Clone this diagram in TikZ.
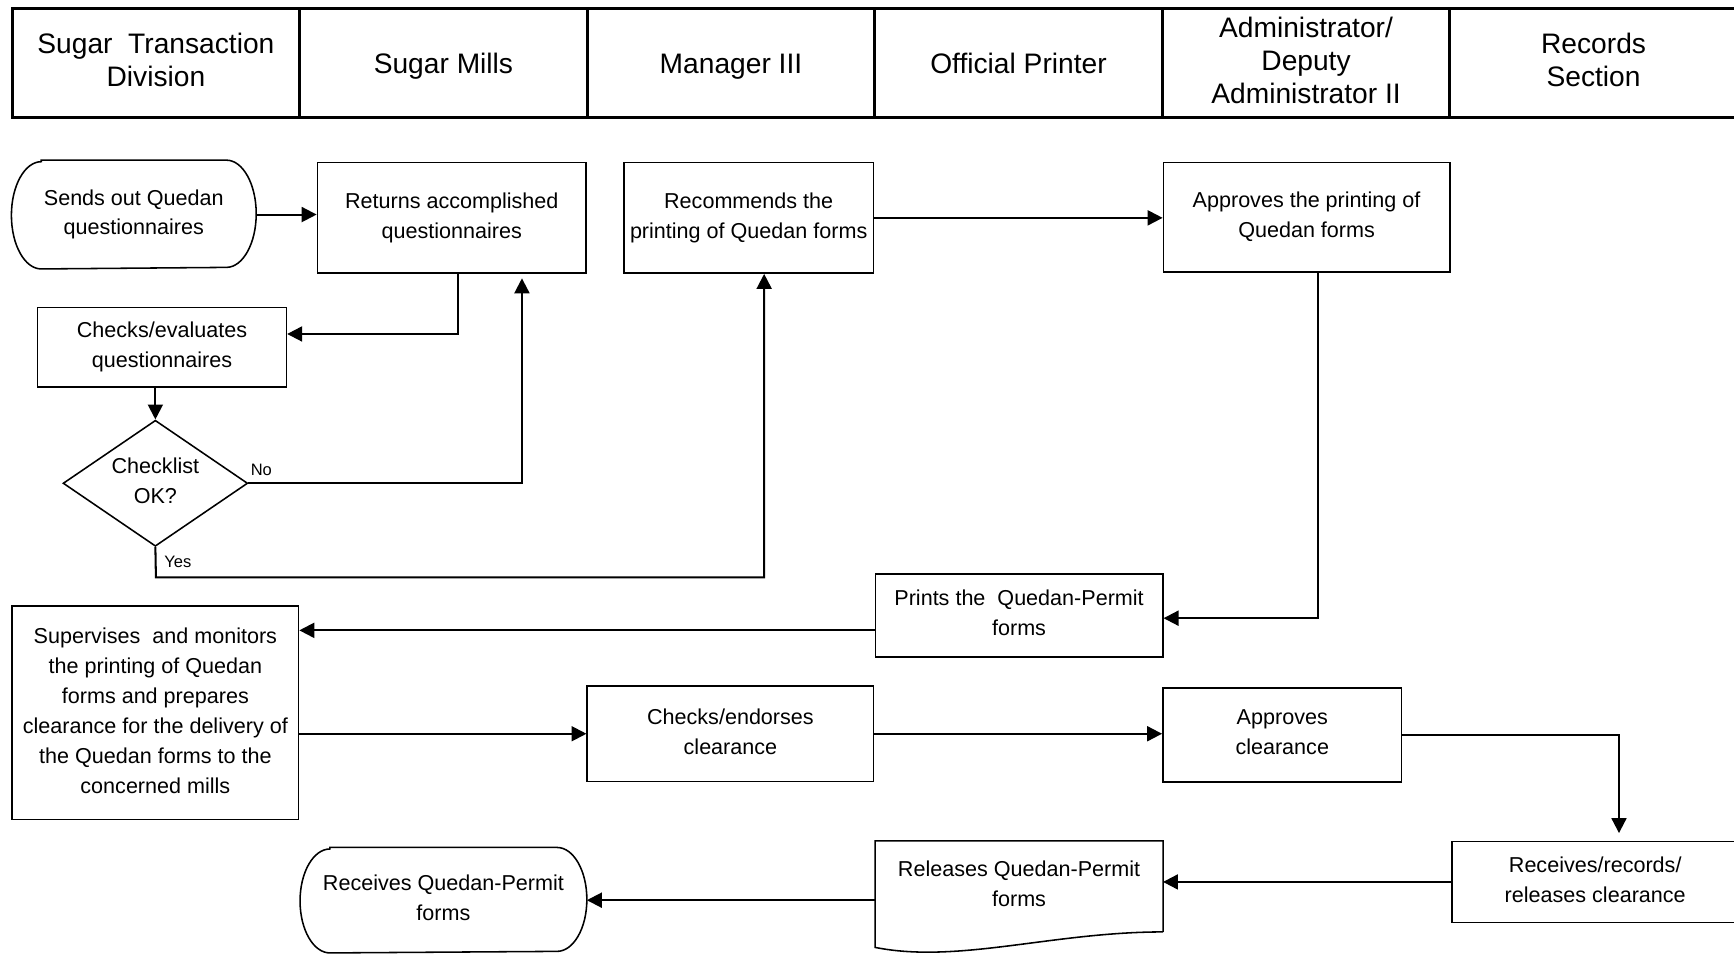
\documentclass[tikz,border=0pt]{standalone}
\usepackage{fontspec}
\setmainfont{Liberation Sans}
\usetikzlibrary{shapes.geometric,arrows.meta}

\newcommand\lanestrut{\rule[-3.1pt]{0pt}{16.6pt}}
\newcommand\procstrut{\rule[-2.4pt]{0pt}{12.75pt}}

\tikzset{
	lane/.style={draw,line width=1.4pt,minimum width=5.2cm,minimum height=1.96cm,align=center,inner sep=0pt,font=\fontsize{14.5}{17}\selectfont,execute at begin node=\lanestrut,execute at end node=\lanestrut},
	proc/.style={draw,line width=0.8pt,align=center,inner sep=0pt,font=\fontsize{11.1}{15.4}\selectfont,execute at begin node=\procstrut,execute at end node=\procstrut},
	term/.style={proc,draw=none},
	flow/.style={line width=1.05pt,-{Triangle[length=0.27cm,width=0.27cm]}},
	tag/.style={font=\fontsize{8.5}{10}\selectfont,inner sep=1pt}
}

\begin{document}
\begin{tikzpicture}[x=0.02cm,y=-0.02cm]
			\useasboundingbox (0,0) rectangle (1568,862);

			\begin{scope}[every node/.style={lane}]
				\node (sugartd) at (141,57) {Sugar\ \ Transaction\\Division};
				\node (mills) at (401,57) {Sugar Mills};
				\node (mgr) at (661,57) {Manager III};
				\node (printer) at (921,57) {Official Printer};
				\node (admin) at (1181,57) {Administrator/\\Deputy\\Administrator II};
				\node (records) at (1441,57) {Records\\Section};
			\end{scope}

			\begin{scope}
				\node[term,minimum width=4.4cm,minimum height=1.94cm] (start) at (121,194) {Sends out Quedan\\questionnaires};
				\node[proc,minimum width=4.86cm,minimum height=2cm] (ret) at (408.5,197) {Returns accomplished\\questionnaires};
				\node[proc,minimum width=4.52cm,minimum height=2cm] (rec) at (677,197) {Recommends the\\printing of Quedan forms};
				\node[proc,minimum width=5.18cm,minimum height=1.98cm] (appr) at (1181.5,196.5) {Approves the printing of\\Quedan forms};
				\node[proc,minimum width=4.5cm,minimum height=1.44cm] (eval) at (146.5,314) {Checks/evaluates\\questionnaires};
				\node[proc,diamond,aspect=1.46,minimum width=3.34cm,minimum height=2.28cm] (chk) at (140.5,437) {Checklist\\OK?};
				\node[proc,minimum width=5.2cm,minimum height=1.5cm] (prn) at (921.5,556.5) {Prints the\ \ Quedan-Permit\\forms};
				\node[proc,minimum width=5.18cm,minimum height=3.86cm] (sup) at (140.5,644.5) {Supervises\ \ and monitors\\the printing of Quedan\\forms and prepares\\clearance for the delivery of\\the Quedan forms to the\\concerned mills};
				\node[proc,minimum width=5.18cm,minimum height=1.72cm] (endo) at (660.5,663.5) {Checks/endorses\\clearance};
				\node[proc,minimum width=4.32cm,minimum height=1.7cm] (apcl) at (1159.5,664.5) {Approves\\clearance};
				\node[proc,minimum width=5.18cm,minimum height=1.46cm] (rcv) at (1442.5,797.5) {Receives/records/\\releases clearance};
				\node[proc,draw=none,minimum width=5.18cm,minimum height=1.62cm] (rel) at (921.5,801.5) {Releases Quedan-Permit\\forms};
				\node[term,minimum width=5.16cm,minimum height=1.88cm] (endn) at (401,814) {Receives Quedan-Permit\\forms};
			\end{scope}

			% terminal outlines
			\draw[line width=0.8pt] ([xshift=0.54cm]start.north west) -- ([xshift=-0.54cm]start.north east)
				arc[start angle=90,end angle=-90,x radius=0.54cm,y radius=0.97cm]
				-- ([xshift=0.54cm]start.south west)
				arc[start angle=270,end angle=90,x radius=0.54cm,y radius=0.97cm] -- cycle;
			\draw[line width=0.8pt] ([xshift=0.54cm]endn.north west) -- ([xshift=-0.54cm]endn.north east)
				arc[start angle=90,end angle=-90,x radius=0.54cm,y radius=0.94cm]
				-- ([xshift=0.54cm]endn.south west)
				arc[start angle=270,end angle=90,x radius=0.54cm,y radius=0.94cm] -- cycle;

			% document shape
			\draw[line width=0.8pt] (rel.south east) -- (rel.north east) -- (rel.north west) -- ([yshift=-0.28cm]rel.south west)
				.. controls +(1.5cm,-0.3cm) and +(-2cm,0cm) .. (rel.south east);

			\coordinate (yesturn) at (141,522);

			\begin{scope}
				\draw[flow] (start.east) -- (start.east -| ret.west);
				\draw[flow] ([xshift=0.11cm]ret.south) |- ([yshift=0.24cm]eval.east);
				\draw[flow] (eval.south -| chk.north) -- (chk.north);
				\draw[flow,shorten >=0.08cm] (chk.east) -| ([xshift=1.27cm]ret.south);
				\draw[flow] (chk.south) -- (yesturn) -| ([xshift=0.28cm]rec.south);
				\draw[flow] (rec.east) -- (rec.east -| appr.west);
				\draw[flow] ([xshift=0.21cm]appr.south) |- ([yshift=-0.05cm]prn.east);
				\draw[flow] ([yshift=-0.27cm]prn.west) -- ([yshift=-0.27cm]prn.west -| sup.east);
				\draw[flow] (endo.west -| sup.east) -- (endo.west);
				\draw[flow] (endo.east) -- (endo.east -| apcl.west);
				\draw[flow,shorten >=0.14cm] (apcl.east) -| ([xshift=0.43cm]rcv.north);
				\draw[flow] (rcv.west) -- (rcv.west -| rel.east);
				\draw[flow] (endn.east -| rel.west) -- (endn.east);
			\end{scope}

			\node[tag,anchor=south west] (no) at ([yshift=0.1cm]chk.east) {No};
			\node[tag,anchor=north west] (yes) at ([xshift=0.12cm,yshift=-0.12cm]chk.south) {Yes};
		\end{tikzpicture}
\end{document}
